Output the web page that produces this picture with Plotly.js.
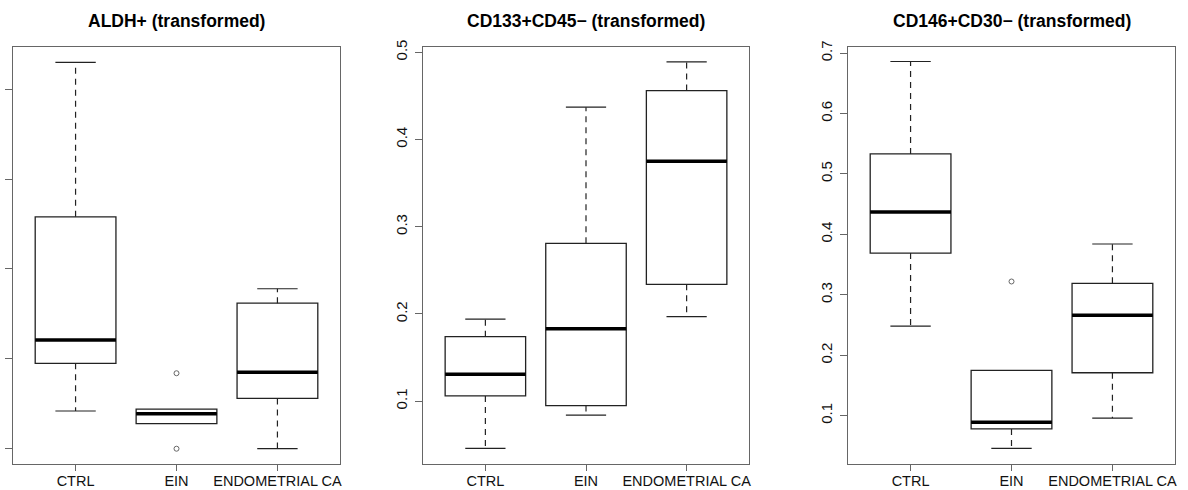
<!DOCTYPE html>
<html>
<head>
<meta charset="utf-8">
<script src="https://cdn.plot.ly/plotly-3.0.1.min.js"></script>
<style>html,body{margin:0;padding:0;background:#fff;}#chart{width:1188px;height:490px;}</style>
</head>
<body>
<div id="chart"></div>
<script>
// ---- data ----
const categories = ["CTRL", "EIN", "ENDOMETRIAL CA"];
const panelTitles = ["ALDH+ (transformed)", "CD133+CD45\u2212 (transformed)", "CD146+CD30\u2212 (transformed)"];

// ALDH+ (y tick labels not visible in the reference; unit scale estimated)
const aldh_low    = [0.142, 0.128, 0.100];
const aldh_q1     = [0.195, 0.128, 0.156];
const aldh_median = [0.221, 0.139, 0.185];
const aldh_q3     = [0.358, 0.144, 0.262];
const aldh_high   = [0.530, 0.144, 0.278];
const aldh_outX   = [2, 2];
const aldh_outY   = [0.184, 0.100];

// CD133+CD45-
const cd133_low    = [0.046, 0.084, 0.197];
const cd133_q1     = [0.106, 0.095, 0.234];
const cd133_median = [0.131, 0.183, 0.375];
const cd133_q3     = [0.174, 0.281, 0.456];
const cd133_high   = [0.194, 0.437, 0.489];
const cd133_outX   = [];
const cd133_outY   = [];

// CD146+CD30-
const cd146_low    = [0.248, 0.046, 0.096];
const cd146_q1     = [0.369, 0.078, 0.171];
const cd146_median = [0.437, 0.089, 0.266];
const cd146_q3     = [0.533, 0.175, 0.319];
const cd146_high   = [0.686, 0.175, 0.384];
const cd146_outX   = [2];
const cd146_outY   = [0.322];

const yTicks = [
  [0.1, 0.2, 0.3, 0.4, 0.5],
  [0.1, 0.2, 0.3, 0.4, 0.5],
  [0.1, 0.2, 0.3, 0.4, 0.5, 0.6, 0.7]
];
const yRanges = [[0.083, 0.547], [0.028, 0.506], [0.020, 0.710]];
const showYLabels = [false, true, true];

const panels = [
  {low: aldh_low, q1: aldh_q1, med: aldh_median, q3: aldh_q3, high: aldh_high, ox: aldh_outX, oy: aldh_outY},
  {low: cd133_low, q1: cd133_q1, med: cd133_median, q3: cd133_q3, high: cd133_high, ox: cd133_outX, oy: cd133_outY},
  {low: cd146_low, q1: cd146_q1, med: cd146_median, q3: cd146_q3, high: cd146_high, ox: cd146_outX, oy: cd146_outY}
];

// ---- styling / layout ----
const W = 1188, H = 490;
const xPix = [[13, 340], [423, 749], [848, 1175]];
const yTop = 47, yBot = 464;
const boxW = 0.8, stapleHalf = 0.2;
const lineCol = "#222";
const axisCol = "#666";
const positions = [1, 2, 3];

const traces = [];
const layout = {
  width: W, height: H,
  margin: {l: 0, r: 0, t: 0, b: 0},
  paper_bgcolor: "#fff", plot_bgcolor: "#fff",
  showlegend: false,
  font: {family: "Liberation Sans, Arial, sans-serif", color: "#111"},
  annotations: []
};

panels.forEach((p, i) => {
  const n = i === 0 ? "" : String(i + 1);
  const xa = "x" + n, ya = "y" + n;
  // box rectangles
  traces.push({
    type: "box", xaxis: xa, yaxis: ya,
    x: positions,
    q1: p.q1, median: p.med, q3: p.q3,
    lowerfence: p.q1, upperfence: p.q3,
    width: boxW, whiskerwidth: 0,
    fillcolor: "#fff",
    line: {color: lineCol, width: 1.3},
    boxpoints: false, hoverinfo: "skip"
  });
  // whiskers (dashed), staples, medians
  const wx = [], wy = [], sx = [], sy = [], mx = [], my = [];
  positions.forEach((xp, k) => {
    if (p.high[k] > p.q3[k]) {
      wx.push(xp, xp, null); wy.push(p.q3[k], p.high[k], null);
      sx.push(xp - stapleHalf, xp + stapleHalf, null); sy.push(p.high[k], p.high[k], null);
    }
    if (p.low[k] < p.q1[k]) {
      wx.push(xp, xp, null); wy.push(p.q1[k], p.low[k], null);
      sx.push(xp - stapleHalf, xp + stapleHalf, null); sy.push(p.low[k], p.low[k], null);
    }
    mx.push(xp - boxW / 2, xp + boxW / 2, null); my.push(p.med[k], p.med[k], null);
  });
  traces.push({type: "scatter", mode: "lines", xaxis: xa, yaxis: ya, x: wx, y: wy,
    line: {color: lineCol, width: 1.2, dash: "6px,5px"}, hoverinfo: "skip"});
  traces.push({type: "scatter", mode: "lines", xaxis: xa, yaxis: ya, x: sx, y: sy,
    line: {color: lineCol, width: 1.2}, hoverinfo: "skip"});
  traces.push({type: "scatter", mode: "lines", xaxis: xa, yaxis: ya, x: mx, y: my,
    line: {color: "#000", width: 3.5}, hoverinfo: "skip"});
  if (p.ox.length) {
    traces.push({type: "scatter", mode: "markers", xaxis: xa, yaxis: ya, x: p.ox, y: p.oy,
      marker: {symbol: "circle-open", size: 5, color: "#666", line: {width: 1}}, hoverinfo: "skip"});
  }

  const dx = [xPix[i][0] / W, xPix[i][1] / W];
  const dy = [(H - yBot) / H, (H - yTop) / H];
  layout["xaxis" + n] = {
    domain: dx, anchor: ya, range: [0.38, 3.62],
    tickvals: positions, ticktext: categories,
    ticks: "outside", ticklen: 6, tickcolor: axisCol, tickwidth: 1,
    showline: true, mirror: true, linecolor: axisCol, linewidth: 1.2,
    showgrid: false, zeroline: false,
    ticklabelstandoff: -3,
    tickfont: {size: 14.5, color: "#111"}
  };
  layout["yaxis" + n] = {
    domain: dy, anchor: xa, range: yRanges[i],
    tickvals: yTicks[i], ticktext: yTicks[i].map(v => v.toFixed(1)),
    showticklabels: showYLabels[i], tickangle: -90,
    ticks: "outside", ticklen: 7, tickcolor: axisCol, tickwidth: 1,
    showline: true, mirror: true, linecolor: axisCol, linewidth: 1.2,
    showgrid: false, zeroline: false,
    ticklabelstandoff: 2,
    tickfont: {size: 15, color: "#111"}
  };
  layout.annotations.push({
    text: "<b>" + panelTitles[i] + "</b>",
    xref: "paper", yref: "paper",
    x: (dx[0] + dx[1]) / 2, y: (H - 21) / H,
    xanchor: "center", yanchor: "middle", showarrow: false,
    font: {size: 17.5, color: "#000"}
  });
});

Plotly.newPlot("chart", traces, layout, {displayModeBar: false, staticPlot: true});
</script>
</body>
</html>
